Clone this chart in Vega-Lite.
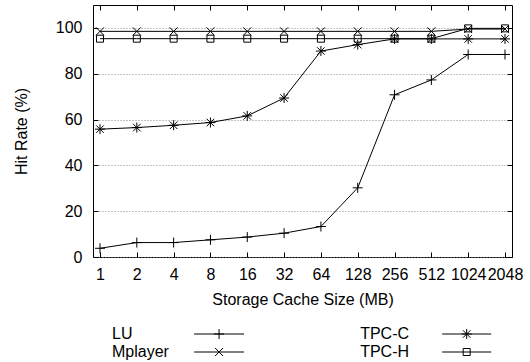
{
  "$schema": "https://vega.github.io/schema/vega-lite/v6.json",
  "width": 419,
  "height": 252,
  "autosize": "none",
  "padding": {"left": 93, "top": 5, "right": 18, "bottom": 105},
  "background": "white",
  "config": {
    "view": {"stroke": "black", "strokeWidth": 1},
    "font": "Liberation Sans",
    "axis": {"labelFont": "Liberation Sans", "titleFont": "Liberation Sans", "labelFontSize": 16, "titleFontSize": 16, "titleFontWeight": "normal", "labelColor": "black", "titleColor": "black", "tickColor": "black", "domain": false}
  },
  "datasets": {
    "hits": [
      {"series": "LU", "size": "1", "rate": 3.8},
      {"series": "LU", "size": "2", "rate": 6.3},
      {"series": "LU", "size": "4", "rate": 6.3},
      {"series": "LU", "size": "8", "rate": 7.5},
      {"series": "LU", "size": "16", "rate": 8.7},
      {"series": "LU", "size": "32", "rate": 10.4},
      {"series": "LU", "size": "64", "rate": 13.3},
      {"series": "LU", "size": "128", "rate": 30.2},
      {"series": "LU", "size": "256", "rate": 70.8},
      {"series": "LU", "size": "512", "rate": 77.3},
      {"series": "LU", "size": "1024", "rate": 88.4},
      {"series": "LU", "size": "2048", "rate": 88.4},
      {"series": "Mplayer", "size": "1", "rate": 98.5},
      {"series": "Mplayer", "size": "2", "rate": 98.5},
      {"series": "Mplayer", "size": "4", "rate": 98.5},
      {"series": "Mplayer", "size": "8", "rate": 98.5},
      {"series": "Mplayer", "size": "16", "rate": 98.5},
      {"series": "Mplayer", "size": "32", "rate": 98.5},
      {"series": "Mplayer", "size": "64", "rate": 98.5},
      {"series": "Mplayer", "size": "128", "rate": 98.5},
      {"series": "Mplayer", "size": "256", "rate": 98.5},
      {"series": "Mplayer", "size": "512", "rate": 98.5},
      {"series": "Mplayer", "size": "1024", "rate": 99.5},
      {"series": "Mplayer", "size": "2048", "rate": 99.5},
      {"series": "TPC-C", "size": "1", "rate": 55.8},
      {"series": "TPC-C", "size": "2", "rate": 56.5},
      {"series": "TPC-C", "size": "4", "rate": 57.5},
      {"series": "TPC-C", "size": "8", "rate": 58.7},
      {"series": "TPC-C", "size": "16", "rate": 61.6},
      {"series": "TPC-C", "size": "32", "rate": 69.4},
      {"series": "TPC-C", "size": "64", "rate": 89.9},
      {"series": "TPC-C", "size": "128", "rate": 92.7},
      {"series": "TPC-C", "size": "256", "rate": 95.2},
      {"series": "TPC-C", "size": "512", "rate": 95.2},
      {"series": "TPC-C", "size": "1024", "rate": 95.2},
      {"series": "TPC-C", "size": "2048", "rate": 95.2},
      {"series": "TPC-H", "size": "1", "rate": 95.3},
      {"series": "TPC-H", "size": "2", "rate": 95.3},
      {"series": "TPC-H", "size": "4", "rate": 95.3},
      {"series": "TPC-H", "size": "8", "rate": 95.3},
      {"series": "TPC-H", "size": "16", "rate": 95.3},
      {"series": "TPC-H", "size": "32", "rate": 95.3},
      {"series": "TPC-H", "size": "64", "rate": 95.3},
      {"series": "TPC-H", "size": "128", "rate": 95.3},
      {"series": "TPC-H", "size": "256", "rate": 95.3},
      {"series": "TPC-H", "size": "512", "rate": 95.3},
      {"series": "TPC-H", "size": "1024", "rate": 99.8},
      {"series": "TPC-H", "size": "2048", "rate": 99.8}
    ],
    "legend": [
      {"series": "LU"},
      {"series": "Mplayer"},
      {"series": "TPC-C"},
      {"series": "TPC-H"}
    ]
  },
  "data": {"name": "hits"},
  "layer": [
    {
      "mark": {"type": "line", "color": "black", "strokeWidth": 1},
      "encoding": {
        "x": {
          "field": "size", "type": "ordinal",
          "sort": ["1","2","4","8","16","32","64","128","256","512","1024","2048"],
          "scale": {"type": "point", "padding": 0.19},
          "axis": {"orient": "bottom", "labelAngle": 0, "tickSize": -5, "labelPadding": 14, "title": "Storage Cache Size (MB)", "titlePadding": 9}
        },
        "y": {
          "field": "rate", "type": "quantitative",
          "scale": {"domain": [0, 110], "nice": false, "zero": true},
          "axis": {"orient": "left", "values": [0,20,40,60,80,100], "tickSize": -5, "labelPadding": 16, "title": "Hit Rate (%)", "titlePadding": 26, "grid": true, "gridColor": "#888888", "gridDash": [1, 2], "gridWidth": 1}
        },
        "detail": {"field": "series"}
      }
    },
    {
      "mark": {"type": "point", "filled": false, "color": "black", "strokeWidth": 1, "size": 100, "opacity": 1},
      "encoding": {
        "x": {
          "field": "size", "type": "ordinal",
          "sort": ["1","2","4","8","16","32","64","128","256","512","1024","2048"],
          "axis": {"orient": "top", "labels": false, "tickSize": -5, "title": null}
        },
        "y": {
          "field": "rate", "type": "quantitative",
          "scale": {"domain": [0, 110], "nice": false, "zero": true},
          "axis": {"orient": "right", "labels": false, "tickSize": -5, "title": null, "values": [0,20,40,60,80,100], "grid": false}
        },
        "shape": {
          "field": "series", "type": "nominal",
          "scale": {
            "domain": ["LU", "Mplayer", "TPC-C", "TPC-H"],
            "range": [
              "M-1,0L1,0M0,-1L0,1",
              "M-0.8,-0.8L0.8,0.8M-0.8,0.8L0.8,-0.8",
              "M-1,0L1,0M0,-1L0,1M-0.75,-0.75L0.75,0.75M-0.75,0.75L0.75,-0.75",
              "M-0.7,-0.7L0.7,-0.7L0.7,0.7L-0.7,0.7Z"
            ]
          },
          "legend": null
        }
      }
    },
    {
      "data": {"name": "legend"},
      "transform": [{"filter": "datum.series === 'LU' || datum.series === 'Mplayer'"}],
      "encoding": {
        "y": {"field": "series", "type": "nominal", "axis": null, "scale": {"type": "point", "padding": 0, "domain": ["LU", "Mplayer"], "range": [329, 347]}}
      },
      "layer": [
        {"mark": {"type": "text", "align": "left", "baseline": "middle", "fontSize": 16, "font": "Liberation Sans", "color": "black", "xOffset": 12},
         "encoding": {"x": {"datum": "1", "axis": null}, "text": {"field": "series"}}},
        {"mark": {"type": "rule", "color": "black", "strokeWidth": 1, "xOffset": -16.4, "x2Offset": 33.6},
         "encoding": {"x": {"datum": "8", "axis": null}, "x2": {"datum": "8"}}},
        {"mark": {"type": "point", "filled": false, "color": "black", "strokeWidth": 1, "size": 100, "opacity": 1, "xOffset": 8.6},
         "encoding": {"x": {"datum": "8", "axis": null}, "shape": {"field": "series", "type": "nominal", "legend": null}}}
      ]
    },
    {
      "data": {"name": "legend"},
      "transform": [{"filter": "datum.series === 'TPC-C' || datum.series === 'TPC-H'"}],
      "encoding": {
        "y": {"field": "series", "type": "nominal", "axis": null, "scale": {"type": "point", "padding": 0, "domain": ["TPC-C", "TPC-H"], "range": [329, 347]}}
      },
      "layer": [
        {"mark": {"type": "text", "align": "left", "baseline": "middle", "fontSize": 16, "font": "Liberation Sans", "color": "black", "xOffset": 2.4},
         "encoding": {"x": {"datum": "128", "axis": null}, "text": {"field": "series"}}},
        {"mark": {"type": "rule", "color": "black", "strokeWidth": 1, "xOffset": -26, "x2Offset": 23},
         "encoding": {"x": {"datum": "1024", "axis": null}, "x2": {"datum": "1024"}}},
        {"mark": {"type": "point", "filled": false, "color": "black", "strokeWidth": 1, "size": 100, "opacity": 1, "xOffset": -1.5},
         "encoding": {"x": {"datum": "1024", "axis": null}, "shape": {"field": "series", "type": "nominal", "legend": null}}}
      ]
    }
  ],
  "resolve": {"axis": {"x": "independent", "y": "independent"}, "scale": {"y": "independent"}}
}
